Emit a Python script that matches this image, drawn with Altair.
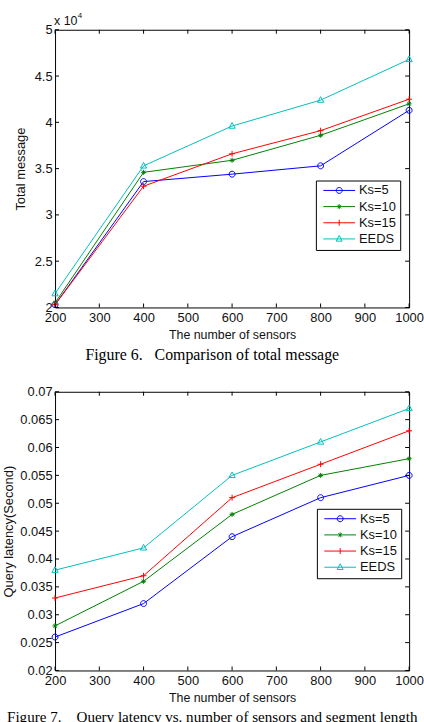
import altair as alt
import pandas as pd

# ---------------- data ----------------
sensors = [200, 400, 600, 800, 1000]
series_names = ["Ks=5", "Ks=10", "Ks=15", "EEDS"]

# Figure 6: total message
msg_ks5 = [20300, 33600, 34400, 35300, 41300]
msg_ks10 = [20500, 34600, 35900, 38600, 42000]
msg_ks15 = [20300, 33100, 36600, 39100, 42500]
msg_eeds = [21500, 35300, 39600, 42400, 46800]

# Figure 7: query latency (second)
lat_ks5 = [0.026, 0.032, 0.044, 0.051, 0.055]
lat_ks10 = [0.028, 0.036, 0.048, 0.055, 0.058]
lat_ks15 = [0.033, 0.037, 0.051, 0.057, 0.063]
lat_eeds = [0.038, 0.042, 0.055, 0.061, 0.067]

x_ticks = [200, 300, 400, 500, 600, 700, 800, 900, 1000]
y1_ticks = [20000, 25000, 30000, 35000, 40000, 45000, 50000]
y2_ticks = [0.02, 0.025, 0.03, 0.035, 0.04, 0.045, 0.05, 0.055, 0.06, 0.065, 0.07]

NB = "\u00a0"
caption1 = "Figure 6." + NB * 3 + "Comparison of total message"
caption2 = "Figure 7." + NB * 4 + "Query latency vs. number of sensors and segment length"

# ---------------- styles ----------------
colors = ["#0000ff", "#008000", "#ff0000", "#00bfbf"]
marker_paths = [
    "M-1,0A1,1 0 1,0 1,0A1,1 0 1,0 -1,0",
    "M-1,0L1,0M0,-1L0,1M-0.7,-0.7L0.7,0.7M-0.7,0.7L0.7,-0.7",
    "M-1,0L1,0M0,-1L0,1",
    "M0,-1.1L1,0.7L-1,0.7Z",
]
marker_sizes = [36, 25, 36, 40]
legend_paths = [
    "M-0.5,0L5.9,0M2.1,0A0.6,0.6 0 1,0 3.3,0A0.6,0.6 0 1,0 2.1,0",
    "M-0.5,0L5.9,0M2.7,-0.5L2.7,0.5M2.35,-0.35L3.05,0.35M2.35,0.35L3.05,-0.35",
    "M-0.5,0L5.9,0M2.7,-0.6L2.7,0.6",
    "M-0.5,0L5.9,0M2.7,-0.7L3.3,0.45L2.1,0.45Z",
]

FONT = "Liberation Sans"
SERIF = "Liberation Serif"
W = 357


def make_panel(values_list, y_ticks, y_domain, y_title, label_expr, H, legend_xy,
               caption, cap_size, title_pad, cap_offset, extra=None):
    rows = []
    for name, vals in zip(series_names, values_list):
        for s, v in zip(sensors, vals):
            rows.append({"sensors": s, "value": v, "series": name})
    df = pd.DataFrame(rows)

    xscale = alt.Scale(domain=[200, 1000], nice=False, zero=False)
    yscale = alt.Scale(domain=y_domain, nice=False, zero=False)
    xaxis = alt.Axis(values=x_ticks, format="d", title="The number of sensors",
                     ticks=False, domain=False, grid=False, labelFont=FONT,
                     labelFontSize=13, labelColor="#111", labelPadding=4,
                     labelFlush=False, labelOverlap=False, titleFont=FONT,
                     titleFontSize=12.5, titleFontWeight="normal", titleColor="#111",
                     titlePadding=4)
    yaxis = alt.Axis(values=y_ticks, labelExpr=label_expr, title=y_title, ticks=False,
                     domain=False, grid=False, labelFont=FONT, labelFontSize=13,
                     labelColor="#111", labelPadding=3, labelFlush=False,
                     labelOverlap=False, titleFont=FONT, titleFontSize=13,
                     titleFontWeight="normal", titleColor="#111",
                     titlePadding=title_pad)

    def X(field):
        return alt.X(field, scale=xscale, axis=xaxis)

    def Y(field):
        return alt.Y(field, scale=yscale, axis=yaxis)

    color_scale = alt.Scale(domain=series_names, range=colors)
    leg = alt.Legend(orient="none", legendX=legend_xy[0], legendY=legend_xy[1], title=None,
                     strokeColor="black", fillColor="white", padding=3.5, rowPadding=2.3,
                     labelFont=FONT, labelFontSize=13, labelColor="#111", labelOffset=27,
                     symbolSize=100, symbolStrokeWidth=1)
    shape_scale = alt.Scale(domain=series_names, range=legend_paths)

    base = alt.Chart(df)
    lines = base.mark_line(strokeWidth=1).encode(
        x=X("sensors:Q"),
        y=Y("value:Q"),
        color=alt.Color("series:N", scale=color_scale, sort=series_names, legend=leg),
        detail="series:N",
    )

    layers = [lines]
    for name, col, path, size in zip(series_names, colors, marker_paths, marker_sizes):
        layers.append(
            base.transform_filter(alt.datum.series == name)
            .mark_point(shape=path, size=size, filled=False, color=col, strokeWidth=1,
                        opacity=1)
            .encode(x=X("sensors:Q"), y=Y("value:Q"))
        )

    legend_layer = base.transform_filter(alt.datum.sensors == 200).mark_point(
        filled=False, opacity=0
    ).encode(
        x=X("sensors:Q"),
        y=Y("value:Q"),
        color=alt.Color("series:N", scale=color_scale, sort=series_names, legend=leg),
        shape=alt.Shape("series:N", scale=shape_scale, sort=series_names, legend=leg),
    )
    layers.append(legend_layer)

    # inward ticks
    xt = alt.Chart(pd.DataFrame({"t": x_ticks}))
    yt = alt.Chart(pd.DataFrame({"t": y_ticks}))
    layers += [
        xt.mark_rule(color="black", strokeWidth=1).encode(x=X("t:Q"), y=alt.value(H), y2=alt.value(H - 4)),
        xt.mark_rule(color="black", strokeWidth=1).encode(x=X("t:Q"), y=alt.value(0), y2=alt.value(4)),
        yt.mark_rule(color="black", strokeWidth=1).encode(y=Y("t:Q"), x=alt.value(0), x2=alt.value(4)),
        yt.mark_rule(color="black", strokeWidth=1).encode(y=Y("t:Q"), x=alt.value(W - 4), x2=alt.value(W)),
    ]
    if extra:
        layers += extra

    return alt.layer(*layers).properties(
        width=W, height=H,
        title=alt.TitleParams(caption, orient="bottom", anchor="middle", frame="group",
                              font=SERIF, fontSize=cap_size, fontWeight="normal",
                              color="black", offset=cap_offset, dx=-20),
    )


exp_text = [
    alt.Chart(pd.DataFrame({"t": ["x 10"]})).mark_text(
        font=FONT, fontSize=12.5, align="left", baseline="alphabetic", color="#111"
    ).encode(text="t:N", x=alt.value(-1), y=alt.value(-5)),
    alt.Chart(pd.DataFrame({"t": ["4"]})).mark_text(
        font=FONT, fontSize=8, align="left", baseline="alphabetic", color="#111"
    ).encode(text="t:N", x=alt.value(23), y=alt.value(-12)),
]

p1 = make_panel([msg_ks5, msg_ks10, msg_ks15, msg_eeds], y1_ticks, [20000, 50000],
                "Total message", "format(datum.value / 10000, '~g')", 280,
                (263, 152), caption1, 16, 7, 6, exp_text)
p2 = make_panel([lat_ks5, lat_ks10, lat_ks15, lat_eeds], y2_ticks, [0.02, 0.07],
                "Query latency(Second)", "format(datum.value, '.3~f')", 281,
                (264, 118), caption2, 15.2, 4, 6)

chart = alt.vconcat(p1, p2, spacing=22).resolve_scale(
    color="independent", shape="independent", x="independent", y="independent"
).resolve_legend(color="independent", shape="independent").properties(
    padding={"left": 1.5, "top": 8, "right": 0, "bottom": 0},
    background="white",
).configure_view(stroke="black", strokeWidth=1)

chart.save("out.html", embed_options={"renderer": "svg", "actions": False})
